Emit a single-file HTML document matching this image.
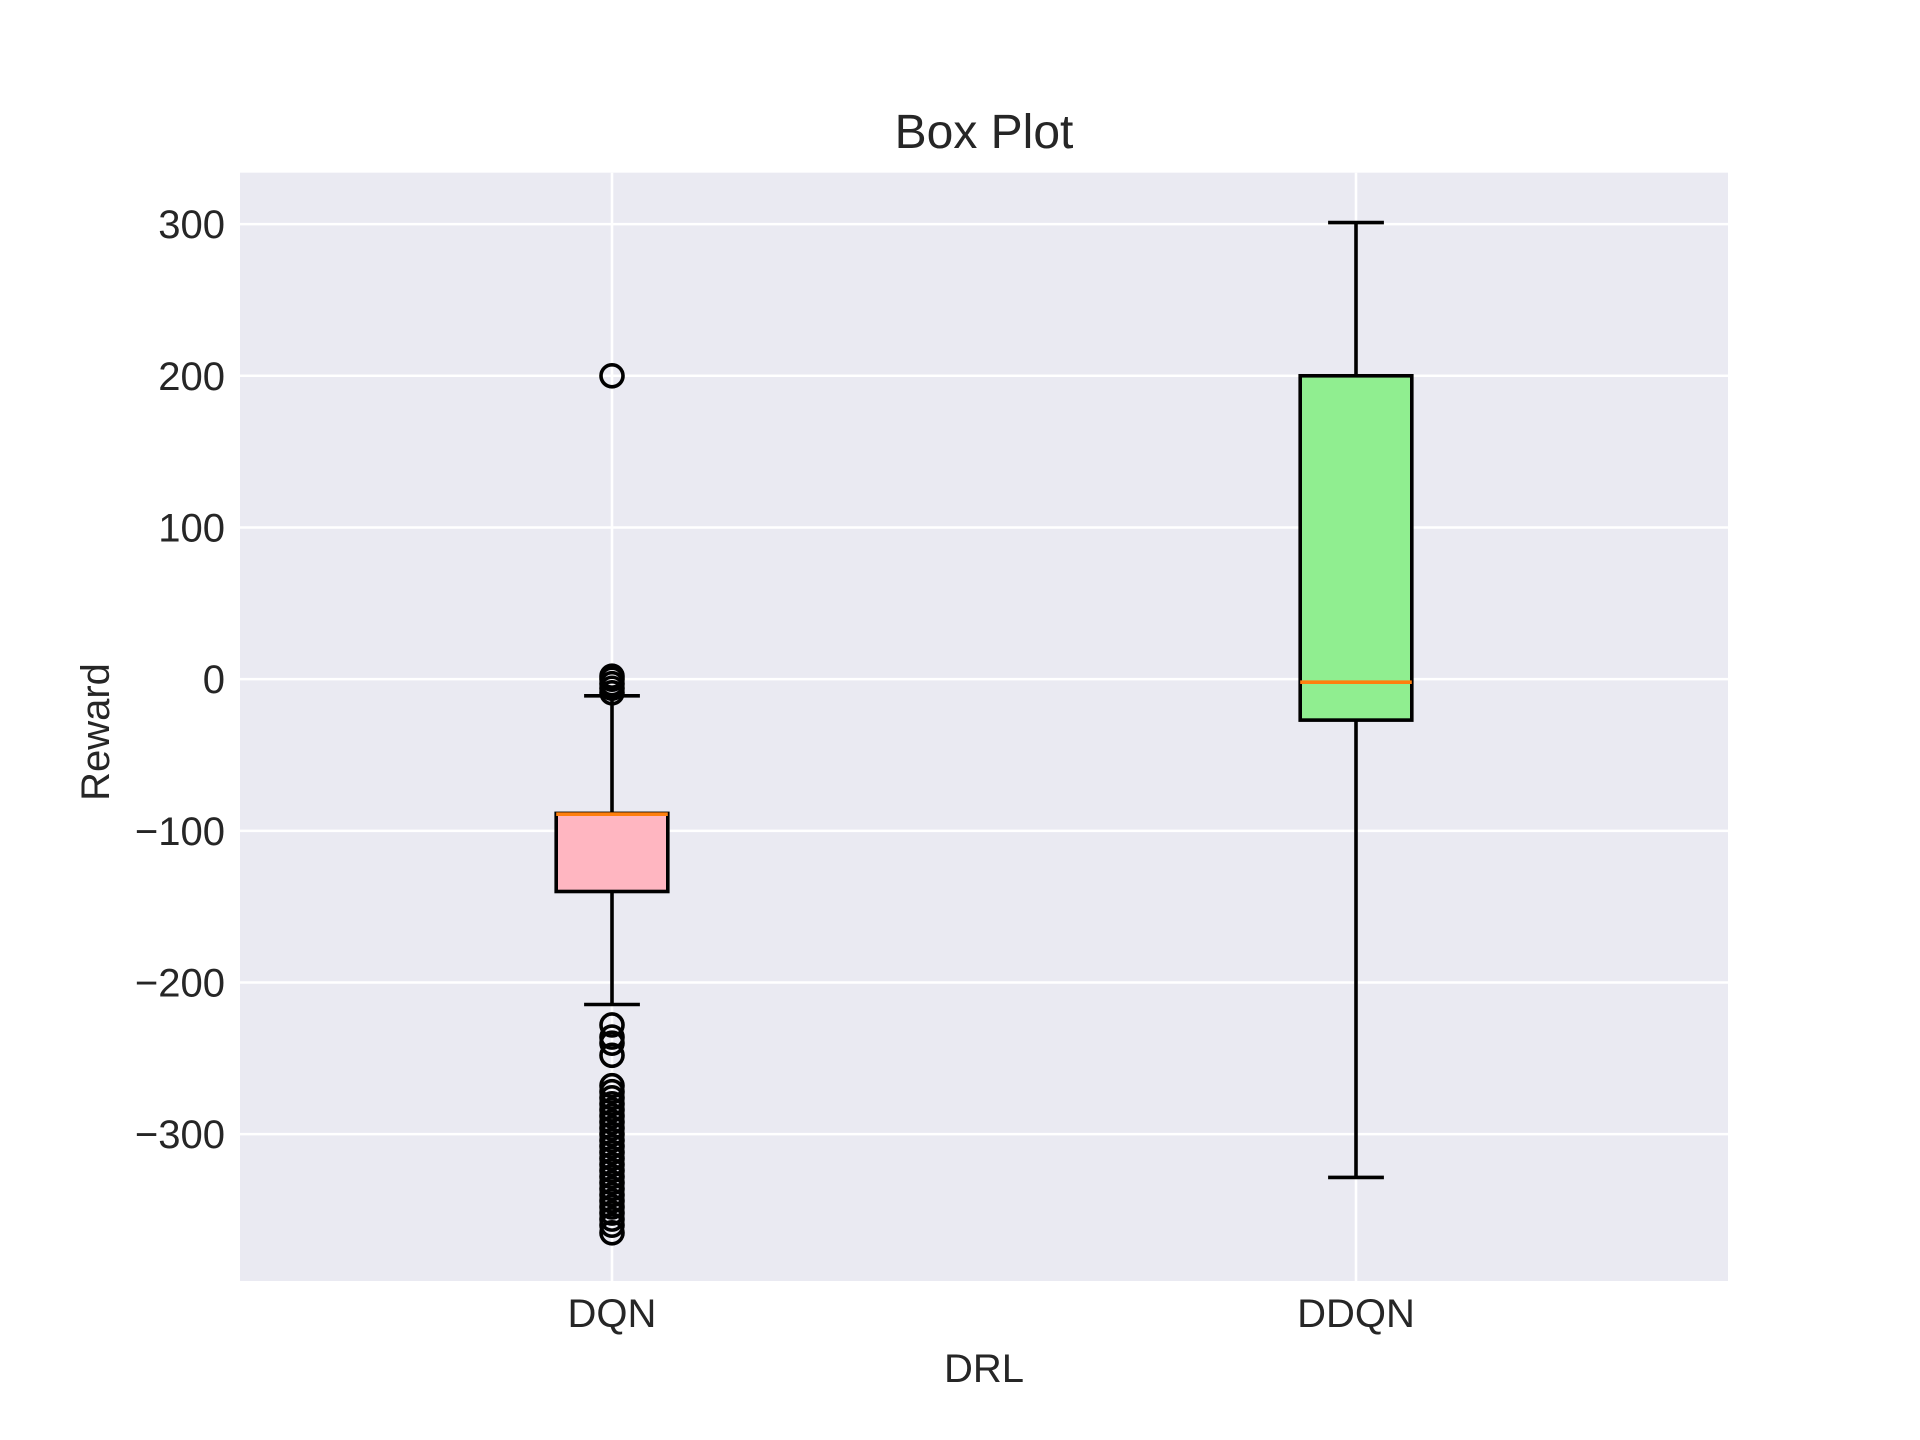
<!DOCTYPE html>
<html><head><meta charset="utf-8"><style>
html,body{margin:0;padding:0;background:#fff;}
svg{display:block;font-family:"Liberation Sans",sans-serif;}
</style></head><body>
<svg id="chart" width="1920" height="1440" viewBox="0 0 1920 1440" xmlns="http://www.w3.org/2000/svg">
<rect x="0" y="0" width="1920" height="1440" fill="#ffffff"/>
<rect x="240" y="172.7" width="1488" height="1108.3" fill="#eaeaf2"/>
<g id="grid"></g>
<g id="marks"></g>
<g id="labels"></g>
<text x="984" y="148" font-size="48" fill="#262626" text-anchor="middle">Box Plot</text>
<text x="984" y="1382" font-size="40" fill="#262626" text-anchor="middle">DRL</text>
<text x="0" y="0" font-size="40" fill="#262626" text-anchor="middle" transform="translate(109,732) rotate(-90)">Reward</text>
</svg>
<script>
const categories = ["DQN", "DDQN"];
const q1Values = [-140, -27];
const q3Values = [-88.5, 200];
const medianValues = [-89, -2];
const whiskerLow = [-214.5, -328.5];
const whiskerHigh = [-11, 301];
const boxColors = ["#ffb6c1", "#90ee90"];
const dqnOutliers = [200, 2, 0, -3, -6, -9, -228, -236, -240, -248, -268, -272, -276, -280, -284, -288, -292, -296, -300, -304, -308, -312, -316, -320, -324, -328, -332, -336, -340, -344, -348, -352, -356, -360, -365];
const ddqnOutliers = [];
const yTicks = [300, 200, 100, 0, -100, -200, -300];
const yTickLabels = ["300", "200", "100", "0", "\u2212100", "\u2212200", "\u2212300"];

const NS = "http://www.w3.org/2000/svg";
const L = 240, R = 1728, T = 172.7, B = 1281;
const yMin = -396.8, yMax = 333.9;
function yScale(v){ return B - (v - yMin) / (yMax - yMin) * (B - T); }
function xScale(p){ return L + (p - 0.5) / 2 * (R - L); }
function mk(tag, attrs, parent){ const e = document.createElementNS(NS, tag); for (const k in attrs) e.setAttribute(k, attrs[k]); parent.appendChild(e); return e; }

const grid = document.getElementById("grid");
const marks = document.getElementById("marks");
const labels = document.getElementById("labels");

yTicks.forEach((t, i) => {
  const y = yScale(t);
  const g = mk("line", {x1: L, x2: R, y1: y, y2: y, stroke: "#ffffff", "stroke-width": 2.5}, grid);
  
  
  const tx = mk("text", {x: 225, y: y + 14, "font-size": 40, fill: "#262626", "text-anchor": "end"}, labels);
  tx.textContent = yTickLabels[i];
  
  
});
categories.forEach((c, i) => {
  const x = xScale(i + 1);
  const g = mk("line", {x1: x, x2: x, y1: T, y2: B, stroke: "#ffffff", "stroke-width": 2.5}, grid);
  
  
  const tx = mk("text", {x: x, y: 1327, "font-size": 40, fill: "#262626", "text-anchor": "middle"}, labels);
  tx.textContent = c;
  
  
});

const outlierSets = [dqnOutliers, ddqnOutliers];
categories.forEach((c, i) => {
  const x = xScale(i + 1);
  const hw = 0.075 / 2 * (R - L);
  const cw = hw / 2;
  const g = mk("g", {}, marks);
  
  
  const wl = mk("line", {x1: x, x2: x, y1: yScale(q3Values[i]), y2: yScale(whiskerHigh[i]), stroke: "#000", "stroke-width": 3.6}, g);
  
  
  const wl2 = mk("line", {x1: x, x2: x, y1: yScale(q1Values[i]), y2: yScale(whiskerLow[i]), stroke: "#000", "stroke-width": 3.6}, g);
  
  
  const c1 = mk("line", {x1: x - cw, x2: x + cw, y1: yScale(whiskerHigh[i]), y2: yScale(whiskerHigh[i]), stroke: "#000", "stroke-width": 3.6}, g);
  
  
  const c2 = mk("line", {x1: x - cw, x2: x + cw, y1: yScale(whiskerLow[i]), y2: yScale(whiskerLow[i]), stroke: "#000", "stroke-width": 3.6}, g);
  
  
  const top = yScale(q3Values[i]), bot = yScale(q1Values[i]);
  const rc = mk("rect", {x: x - hw, y: top, width: 2 * hw, height: bot - top, fill: boxColors[i], stroke: "#000", "stroke-width": 3.6}, g);
  
  
  const md = mk("line", {x1: x - hw, x2: x + hw, y1: yScale(medianValues[i]), y2: yScale(medianValues[i]), stroke: "#ff7f0e", "stroke-width": 3.6}, g);
  
  
  outlierSets[i].forEach(v => {
    const o = mk("circle", {cx: x, cy: yScale(v), r: 11, fill: "none", stroke: "#000", "stroke-width": 3.6}, g);
    
    
  });
});
</script>
</body></html>
